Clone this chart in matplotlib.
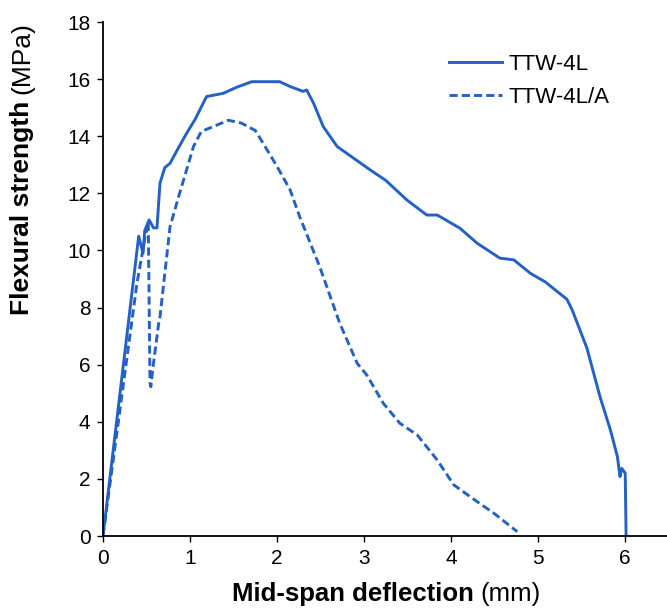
import matplotlib
matplotlib.use('Agg')
import matplotlib.pyplot as plt

plt.rcParams['font.family'] = ['Liberation Sans', 'DejaVu Sans']

# TTW-4L (solid)
defl_4l = [0, 0.41, 0.46, 0.48, 0.53, 0.58, 0.62, 0.655, 0.71, 0.77, 0.85, 0.96,
           1.06, 1.15, 1.19, 1.38, 1.54, 1.71, 1.88, 2.03, 2.15, 2.30, 2.34, 2.42, 2.53,
           2.69, 2.88, 3.07, 3.25, 3.49, 3.72, 3.84, 4.10, 4.30, 4.56, 4.72, 4.91,
           5.08, 5.33, 5.39, 5.56, 5.71, 5.83, 5.91, 5.94, 5.96, 6.0, 6.01]
stress_4l = [0, 10.5, 9.9, 10.7, 11.07, 10.79, 10.79, 12.36, 12.9, 13.05, 13.5, 14.1,
             14.6, 15.15, 15.39, 15.5, 15.72, 15.91, 15.91, 15.91, 15.74, 15.57, 15.62, 15.15, 14.34,
             13.64, 13.23, 12.82, 12.45, 11.77, 11.24, 11.24, 10.78, 10.25, 9.73, 9.67, 9.2,
             8.9, 8.29, 7.92, 6.58, 4.88, 3.71, 2.78, 2.08, 2.37, 2.2, 0]

# TTW-4L/A (dashed)
defl_4la = [0, 0.39, 0.48, 0.52, 0.54, 0.55, 0.58, 0.64, 0.655, 0.77, 0.88, 1.04,
            1.13, 1.27, 1.44, 1.59, 1.75, 1.84, 2.0, 2.15, 2.26, 2.49, 2.72, 2.92,
            3.03, 3.22, 3.41, 3.61, 3.84, 4.03, 4.30, 4.49, 4.76]
stress_4la = [0, 8.85, 10.4, 11.0, 5.36, 5.23, 6.05, 7.45, 7.68, 10.83, 12.0, 13.64,
              14.17, 14.34, 14.56, 14.46, 14.2, 13.75, 12.94, 12.12, 11.18, 9.43, 7.45, 6.05,
              5.64, 4.65, 3.95, 3.54, 2.66, 1.79, 1.2, 0.8, 0.15]

blue = '#2361c4'

fig = plt.figure(figsize=(6.67, 6.11), dpi=100)
ax = fig.add_axes([103 / 667, 75 / 611, 1 - 103 / 667, 514 / 611])

ax.plot(defl_4l, stress_4l, color=blue, lw=2.1, label='TTW-4L')
ax.plot(defl_4la, stress_4la, color=blue, lw=2.1, dashes=(2.8, 1.4), label='TTW-4L/A')

ax.set_xlim(0, 6.48)
ax.set_ylim(0, 18)
ax.set_xticks(range(0, 7))
ax.set_yticks(range(0, 19, 2))
ax.spines['top'].set_visible(False)
ax.spines['right'].set_visible(False)
for s in ['left', 'bottom']:
    ax.spines[s].set_linewidth(1.3)
ax.tick_params(direction='out', length=4, width=1, labelsize=15, pad=5)

ax.legend(loc='upper left', bbox_to_anchor=(0.578, 0.977), frameon=False,
          fontsize=16, handlelength=2.4, handletextpad=0.3, labelspacing=0.55)

# x label: bold part + normal part
xl = fig.text(232 / 667, 5 / 611, 'Mid-span deflection', fontsize=18.5,
              fontweight='bold', ha='left', va='bottom')
ax.annotate('(mm)', xy=(1, 0), xycoords=xl, xytext=(5, 0), textcoords='offset points',
            fontsize=18.5, ha='left', va='bottom', annotation_clip=False)

# y label
yl = fig.text(10 / 667, (611 - 315) / 611, 'Flexural strength', fontsize=19,
              fontweight='bold', rotation=90, ha='left', va='bottom')
ax.annotate('(MPa)', xy=(0, 1), xycoords=yl, xytext=(0, 5), textcoords='offset points',
            fontsize=19, rotation=90, ha='left', va='bottom', annotation_clip=False)

fig.savefig('out.png', dpi=100)
